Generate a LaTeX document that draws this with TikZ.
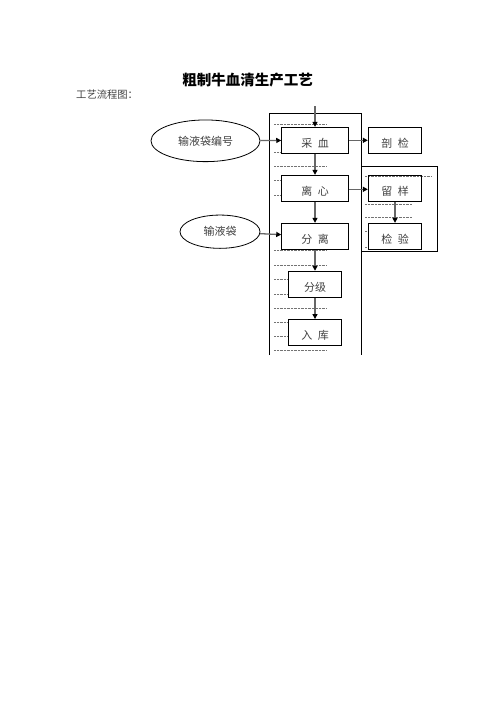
\documentclass[tikz,border=0pt]{standalone}
\usepackage{fontspec}
\newfontfamily\cjk{Noto Sans CJK SC}
\usetikzlibrary{arrows.meta,shapes.geometric}
\begin{document}
\begin{tikzpicture}[x=1pt,y=-1pt,
  proc/.style={draw=black,line width=0.9pt,rectangle,inner sep=0pt,
    minimum width=66.6pt,minimum height=26pt,
    font=\cjk\fontsize{11}{12}\selectfont,text=black!75,
    text height=14pt,text depth=0pt},
  procs/.style={proc,minimum width=53.4pt},
  oval/.style={draw=black,line width=0.8pt,ellipse,inner sep=0pt,
    font=\cjk\fontsize{11}{12}\selectfont,text=black!75},
  flow/.style={draw=black!60,line width=1.3pt,
    -{Triangle[color=black,length=5pt,width=5pt]}},
  frame/.style={draw=black,line width=0.8pt},
  dots/.style={draw=black!55,line width=0.5pt,dash pattern=on 0.7pt off 0.7pt}]
\useasboundingbox (0,0) rectangle (496,702);
% title and subtitle
\node[font=\cjk\bfseries\fontsize{14.5}{16}\selectfont] (title) at (247.5,80) {粗制牛血清生产工艺};
\node[anchor=west,inner sep=0pt,font=\cjk\fontsize{10.3}{12}\selectfont,text=black!75] (sub) at (76,94.5) {工艺流程图：};
% frames
\draw[frame] (269.5,355) -- (269.5,113.5) -- (361.3,113.5) -- (361.3,355);
\draw[frame] (361.3,166.7) -- (437.3,166.7) -- (437.3,251) -- (361.3,251);
% dotted guide lines, left column
\foreach \yy in {124.3,166,250,265.7,308.3,350.3}
  \draw[dots] (274,\yy) -- (326,\yy);
\foreach \yy in {152.5,180,195.3}
  \draw[dots] (274,\yy) -- (281.5,\yy);
\foreach \yy in {279.3,294.3,322.7,336}
  \draw[dots] (274,\yy) -- (288.3,\yy);
% dotted guide lines, right column
\draw[dots] (365,176) -- (431.7,176);
\foreach \yy in {204.3,217.7}
  \draw[dots] (365,\yy) -- (412,\yy);
\foreach \yy in {231.7,247.3}
  \draw[dots] (365,\yy) -- (368.3,\yy);
% process boxes
\node[proc]  (caixue)  at (315,140.3) {采\hspace{0.5em}血};
\node[procs] (poujian) at (395,140.3) {剖\hspace{0.5em}检};
\node[proc]  (lixin)   at (315,188.3) {离\hspace{0.5em}心};
\node[procs] (liuyang) at (395,188.3) {留\hspace{0.5em}样};
\node[proc]  (fenli)   at (315,236.3) {分\hspace{0.5em}离};
\node[procs] (jianyan) at (395,236.3) {检\hspace{0.5em}验};
\node[procs] (fenji)   at (315,284.2) {分级};
\node[procs] (ruku)    at (315,332.5) {入\hspace{0.5em}库};
% ovals
\node[oval,minimum width=109pt,minimum height=41.7pt] (bian) at (205.5,140.8) {输液袋编号};
\node[oval,minimum width=80pt,minimum height=33.3pt] (dai) at (220,231.7) {输液袋};
% connectors
\coordinate (start) at (315,106);
\draw[flow] (start) -- (caixue.north);
\draw[flow] (bian) -- (caixue);
\draw[flow] (caixue) -- (poujian);
\draw[flow] (caixue) -- (lixin);
\draw[flow] (lixin.east |- 0,189.3) -- (liuyang.west |- 0,189.3);
\draw[flow] (lixin) -- (fenli);
\draw[flow] (liuyang) -- (jianyan);
\draw[flow] (dai) -- (fenli);
\draw[flow] (fenli) -- (fenji);
\draw[flow] (fenji) -- (ruku);
\end{tikzpicture}
\end{document}
